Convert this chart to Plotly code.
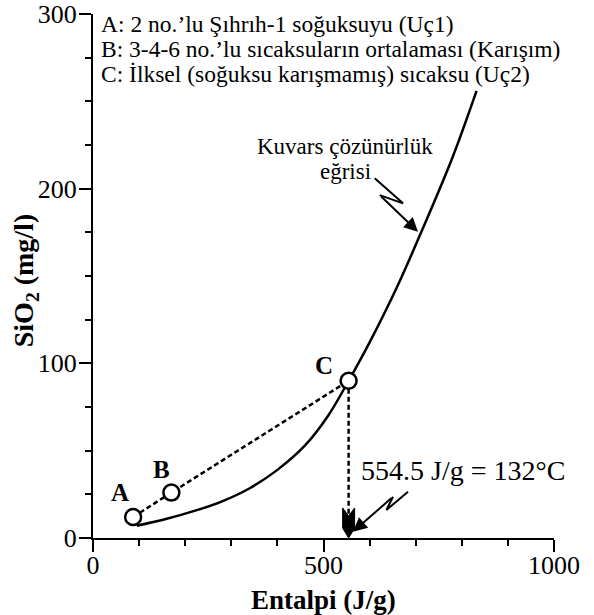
import plotly.graph_objects as go

# ---------------- data ----------------
curve_x = [95, 160, 220, 280, 340, 400, 460, 510, 554.5, 600, 660, 720, 780, 832]
curve_y = [7, 11, 15.5, 21, 28.5, 39, 53, 70, 90, 112, 144, 180, 218, 256]

point_labels = ["A", "B", "C"]
point_x = [87, 170, 554.5]
point_y = [12, 26, 90]

target_enthalpy = 554.5
legend_lines = [
    "A: 2 no.’lu Şıhrıh-1 soğuksuyu (Uç1)",
    "B: 3-4-6 no.’lu sıcaksuların ortalaması (Karışım)",
    "C: İlksel (soğuksu karışmamış) sıcaksu (Uç2)",
]
curve_label = ["Kuvars çözünürlük", "eğrisi"]
result_label = "554.5 J/g = 132°C"
x_title = "<b>Entalpi (J/g)</b>"
y_title = "<b>SiO<sub>2</sub> (mg/l)</b>"

x_range = [0, 1000]
y_range = [0, 300]

FONT = "Liberation Serif, Times New Roman, Times, serif"
BLACK = "black"

fig = go.Figure()

# quartz solubility curve
fig.add_trace(go.Scatter(x=curve_x, y=curve_y, mode="lines",
                         line=dict(color=BLACK, width=2.5, shape="spline", smoothing=1.0),
                         hoverinfo="skip", showlegend=False))
# mixing line A-B-C
fig.add_trace(go.Scatter(x=point_x, y=point_y, mode="lines",
                         line=dict(color=BLACK, width=2.5, dash="5px,3px"),
                         hoverinfo="skip", showlegend=False))
# vertical dashed line from C down to arrowhead
fig.add_trace(go.Scatter(x=[point_x[2], target_enthalpy], y=[point_y[2], 12.6], mode="lines",
                         line=dict(color=BLACK, width=2.5, dash="5px,3px"),
                         hoverinfo="skip", showlegend=False))
# points
fig.add_trace(go.Scatter(x=point_x, y=point_y, mode="markers",
                         marker=dict(size=16, color="white", line=dict(color=BLACK, width=2.5)),
                         hoverinfo="skip", showlegend=False))

annotations = []
# legend lines
for txt, yy in zip(legend_lines, [294.2, 279.9, 265.6]):
    annotations.append(dict(x=12, y=yy, xref="x", yref="y", text=txt, showarrow=False,
                            xanchor="left", yanchor="middle",
                            font=dict(family=FONT, size=23.5, color=BLACK)))
# point labels
for lab, lx, ly in zip(point_labels, [59, 148, 502], [26, 39, 99]):
    annotations.append(dict(x=lx, y=ly, xref="x", yref="y", text=f"<b>{lab}</b>", showarrow=False,
                            xanchor="center", yanchor="middle",
                            font=dict(family=FONT, size=25, color=BLACK)))
# curve label
annotations.append(dict(x=547, y=224.4, xref="x", yref="y", text=curve_label[0], showarrow=False,
                        xanchor="center", yanchor="middle", font=dict(family=FONT, size=23, color=BLACK)))
annotations.append(dict(x=548, y=210, xref="x", yref="y", text=curve_label[1], showarrow=False,
                        xanchor="center", yanchor="middle", font=dict(family=FONT, size=23, color=BLACK)))
# result label
annotations.append(dict(x=576, y=38.9, xref="x", yref="y", text=result_label, showarrow=False,
                        xanchor="left", yanchor="middle", font=dict(family=FONT, size=28, color=BLACK)))
# axis titles
annotations.append(dict(x=0.5, y=-0.118, xref="paper", yref="paper", text=x_title, showarrow=False,
                        xanchor="center", yanchor="middle", font=dict(family=FONT, size=27, color=BLACK)))
annotations.append(dict(x=-0.1475, y=0.49, xref="paper", yref="paper", text=y_title, showarrow=False,
                        textangle=-90, xanchor="center", yanchor="middle",
                        font=dict(family=FONT, size=28, color=BLACK)))
# lightning arrows final segments
annotations.append(dict(x=705, y=175.3, ax=621.9, ay=196.3, xref="x", yref="y", axref="x", ayref="y",
                        text="", showarrow=True, arrowhead=2, arrowsize=1.4, arrowwidth=2, arrowcolor=BLACK,
                        standoff=0))
annotations.append(dict(x=564, y=3.6, ax=650.8, ay=23.6, xref="x", yref="y", axref="x", ayref="y",
                        text="", showarrow=True, arrowhead=2, arrowsize=1.4, arrowwidth=2, arrowcolor=BLACK,
                        standoff=0))

shapes = [
    dict(type="path", xref="x", yref="y",
         path="M 611,205.9 L 672.5,191.6 L 621.9,196.3",
         line=dict(color=BLACK, width=2)),
    dict(type="path", xref="x", yref="y",
         path="M 683.3,26.5 L 636.4,16.0 L 650.8,23.6",
         line=dict(color=BLACK, width=2)),
    dict(type="path", xref="x", yref="y",
         path=(f"M {target_enthalpy},0 L {target_enthalpy+13},5.7 L {target_enthalpy+13},17.2 "
               f"L {target_enthalpy},12.6 L {target_enthalpy-13},17.2 L {target_enthalpy-13},5.7 Z"),
         fillcolor=BLACK, line=dict(color=BLACK, width=1)),
]

axis_common = dict(showgrid=False, zeroline=False, showline=True, linecolor=BLACK, linewidth=2,
                   ticks="outside", ticklen=12, tickwidth=2, tickcolor=BLACK, automargin=False,
                   tickfont=dict(family=FONT, size=26, color=BLACK))

fig.update_layout(
    width=594, height=615,
    margin=dict(l=93, r=40, t=14, b=77),
    paper_bgcolor="white", plot_bgcolor="white",
    xaxis=dict(range=x_range, dtick=500, tick0=0, ticklabelstandoff=-9,
               minor=dict(ticks="outside", ticklen=6, tickwidth=2, tickcolor=BLACK, dtick=100),
               **axis_common),
    yaxis=dict(range=y_range, dtick=100, tick0=0, ticklabelstandoff=-3,
               minor=dict(ticks="outside", ticklen=6, tickwidth=2, tickcolor=BLACK, dtick=25),
               **axis_common),
    annotations=annotations,
    shapes=shapes,
    showlegend=False,
)

fig.write_html("out.html", config={"displayModeBar": False},
               post_script="document.body.style.margin='0';")
